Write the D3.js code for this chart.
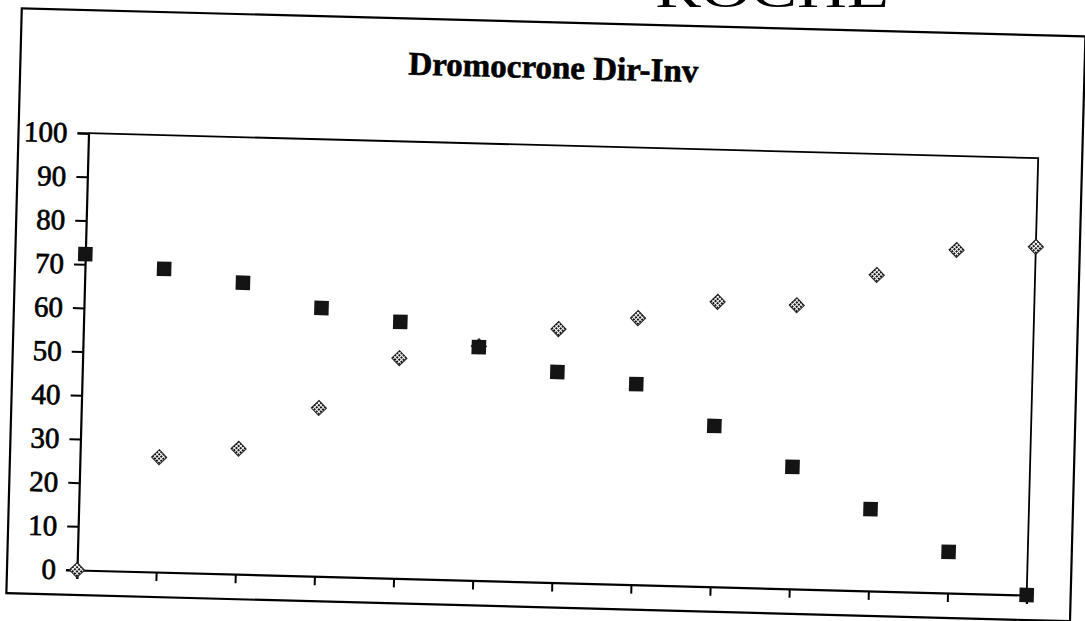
<!DOCTYPE html>
<html>
<head>
<meta charset="utf-8">
<script src="https://cdn.jsdelivr.net/npm/d3@7"></script>
<style>
  html, body { margin: 0; padding: 0; background: #fff; }
  svg { display: block; }
</style>
</head>
<body>
<svg id="chart" width="1085" height="621"></svg>
<script>
// Stations along the profile (index of each geophone)
const stations = [0, 1, 2, 3, 4, 5, 6, 7, 8, 9, 10, 11, 12];
// Travel times, direct shot (diamonds) and reverse shot (squares)
const direct  = [0, 26.3, 28.7, 38.5, 50.4, 53.6, 58.0, 61.0, 65.2, 64.9, 72.3, 78.5, 79.7];
const inverse = [72.3, 69.4, 66.7, 61.4, 58.7, 53.4, 48.2, 45.9, 36.8, 27.9, 18.7, 9.4, 0];
const yTicks = [0, 10, 20, 30, 40, 50, 60, 70, 80, 90, 100];
const titleText = "Dromocrone Dir-Inv";
const headerText = "ROCHE";

const serif = "'Liberation Serif', 'Times New Roman', serif";

const svg = d3.select("#chart");
svg.append("rect").attr("width", 1085).attr("height", 621).attr("fill", "#fff");

// halftone dot fill used for the diamond markers
const defs = svg.append("defs");
const pat = defs.append("pattern")
  .attr("id", "halftone")
  .attr("patternUnits", "userSpaceOnUse")
  .attr("width", 3).attr("height", 3);
pat.append("rect").attr("width", 3).attr("height", 3).attr("fill", "#fff");
pat.append("rect").attr("width", 2).attr("height", 2).attr("fill", "#111");

const plot = { left: 77, right: 1027, top: 133, bottom: 570 };
const x = d3.scaleLinear().domain([0, 12]).range([plot.left, plot.right]);
const y = d3.scaleLinear().domain([0, 100]).range([plot.bottom, plot.top]);

// the printed page sits slightly skewed on the scanner
const g = svg.append("g").attr("transform", `rotate(1.51 ${plot.left} ${plot.bottom})`);

// chart area frame
g.append("rect")
  .attr("x", 7).attr("y", 10).attr("width", 1064).attr("height", 585)
  .attr("fill", "none").attr("stroke", "#000").attr("stroke-width", 2.2);

// title
g.append("text")
  .attr("x", 540).attr("y", 66)
  .attr("text-anchor", "middle")
  .attr("font-family", serif)
  .attr("font-weight", "bold")
  .attr("font-size", 33)
  .attr("fill", "#000")
  .attr("stroke", "#000").attr("stroke-width", 0.6)
  .text(titleText);

// plot area border (top and right)
g.append("path")
  .attr("d", `M${x(0)},${y(100)}H${x(12)}V${y(0)}`)
  .attr("fill", "none").attr("stroke", "#000").attr("stroke-width", 1.8);

// y axis
const yAxis = d3.axisLeft(y).tickValues(yTicks).tickSize(11).tickPadding(10).tickFormat(d3.format("d"));
const yG = g.append("g").attr("transform", `translate(${plot.left},0)`).call(yAxis);
yG.select(".domain").attr("stroke", "#000").attr("stroke-width", 2.2);
yG.selectAll(".tick line").attr("stroke", "#000").attr("stroke-width", 2);
yG.selectAll(".tick text")
  .attr("font-family", serif)
  .attr("font-size", 29)
  .attr("fill", "#000")
  .attr("stroke", "#000").attr("stroke-width", 0.7);

// x axis, ticks only
const xAxis = d3.axisBottom(x).tickValues(stations).tickSize(9).tickFormat("");
const xG = g.append("g").attr("transform", `translate(0,${plot.bottom})`).call(xAxis);
xG.select(".domain").attr("stroke", "#000").attr("stroke-width", 2.2);
xG.selectAll(".tick line").attr("stroke", "#000").attr("stroke-width", 2);

// direct series: diamonds
const diamond = d3.symbol().type(d3.symbolSquare).size(115);
g.append("g").selectAll("path")
  .data(stations.map((s, i) => ({ s, v: direct[i] })))
  .join("path")
  .attr("d", diamond)
  .attr("transform", d => `translate(${x(d.s)},${y(d.v)}) rotate(45)`)
  .attr("fill", "url(#halftone)")
  .attr("stroke", "#222").attr("stroke-width", 1);

// reverse series: squares
const square = d3.symbol().type(d3.symbolSquare).size(210);
g.append("g").selectAll("path")
  .data(stations.map((s, i) => ({ s, v: inverse[i] })))
  .join("path")
  .attr("d", square)
  .attr("transform", d => `translate(${x(d.s)},${y(d.v)})`)
  .attr("fill", "#141414");

// page header cut off by the scan edge
svg.append("text")
  .attr("x", 655).attr("y", 7)
  .attr("font-family", serif)
  .attr("font-size", 48)
  .attr("textLength", 234)
  .attr("lengthAdjust", "spacingAndGlyphs")
  .attr("fill", "#000")
  .text(headerText);
</script>
</body>
</html>
